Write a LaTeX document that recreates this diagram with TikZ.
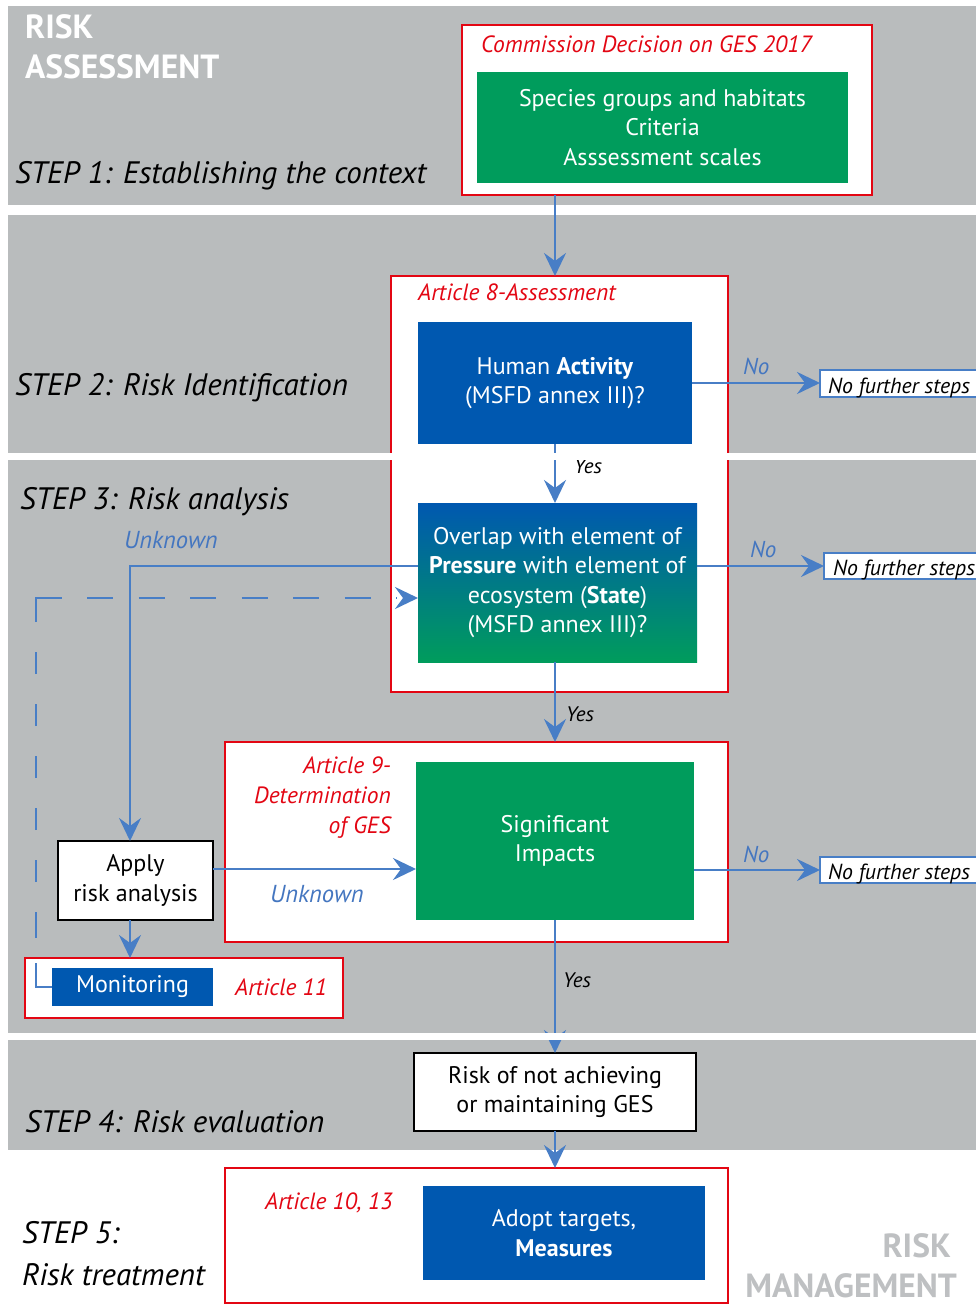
\documentclass[tikz,border=0pt]{standalone}
\usepackage{fontspec}
\setmainfont{PT Sans}
\usetikzlibrary{arrows.meta,calc}
\definecolor{band}{RGB}{185,188,189}
\definecolor{artred}{RGB}{227,6,19}
\definecolor{boxgreen}{RGB}{0,156,92}
\definecolor{boxblue}{RGB}{0,88,176}
\definecolor{arrblue}{RGB}{72,126,198}
\definecolor{lblblue}{RGB}{68,118,192}
\definecolor{mgmtgray}{RGB}{190,192,194}
\newcommand\fBox{\fontsize{24}{29.5}\selectfont}
\newcommand\fStep{\fontsize{31}{40}\selectfont\itshape}
\newcommand\fHead{\fontsize{33.5}{40}\selectfont\bfseries}
\newcommand\fArt{\fontsize{23.5}{30}\selectfont\itshape}
\newcommand\fLbl{\fontsize{23}{26}\selectfont\itshape}
\newcommand\fUnk{\fontsize{24.5}{26}\selectfont\itshape}
\newcommand\fYes{\fontsize{21}{24}\selectfont\itshape}
\newcommand\fNF{\fontsize{21.8}{24}\selectfont\itshape}
\tikzset{
 redbox/.style={draw=artred, line width=2.4pt, fill=white, inner sep=0pt, outer sep=0pt, anchor=north west},
 fillbox/.style={inner sep=0pt, outer sep=0pt, anchor=north west, text=white, align=center, font=\fBox},
 greenbox/.style={fillbox, fill=boxgreen},
 bluebox/.style={fillbox, fill=boxblue},
 gradbox/.style={fillbox, top color=boxblue, bottom color=boxgreen},
 blackbox/.style={fillbox, fill=white, draw=black, line width=2.6pt, text=black},
 nfbox/.style={draw=arrblue, line width=2.2pt, fill=white, anchor=north west, inner sep=0pt, outer sep=0pt},
 nftext/.style={font=\fNF, text=black, inner sep=0pt, anchor=base west},
 arr/.style={draw=arrblue, line width=2.8pt, -{Stealth[length=23pt,width=22pt,inset=8pt]}},
 artlbl/.style={text=artred, font=\fArt, inner sep=0pt},
 steplbl/.style={font=\fStep, text=black, anchor=base west, inner sep=0pt},
 headlbl/.style={font=\fHead, inner sep=0pt},
 nolbl/.style={text=lblblue, font=\fLbl, inner sep=0pt, anchor=base west},
 unklbl/.style={text=lblblue, font=\fUnk, inner sep=0pt, anchor=base west},
 yeslbl/.style={text=black, font=\fYes, inner sep=0pt, anchor=base west},
}
\begin{document}
\begin{tikzpicture}[x=1pt,y=-1pt]
\useasboundingbox (0,0) rectangle (976,1313);
\clip (0,0) rectangle (976,1313);
% bands
\fill[band] (8,6) rectangle (976,205);
\fill[band] (8,215) rectangle (976,1033);
\fill[band] (8,1040) rectangle (976,1150);
% headings
\node[headlbl, text=white, anchor=base west] (hra1) at (25,39) {RISK};
\node[headlbl, text=white, anchor=base west] (hra2) at (25,79) {ASSESSMENT};
\node[headlbl, text=mgmtgray, anchor=base east] (hrm1) at (951,1257) {RISK};
\node[headlbl, text=mgmtgray, anchor=base east] (hrm2) at (957,1297) {MANAGEMENT};
% step labels
\node[steplbl] (s1) at (15,184) {STEP 1: Establishing the context};
\node[steplbl] (s2) at (15,395) {STEP 2: Risk Identification};
\node[steplbl] (s3) at (20,509) {STEP 3: Risk analysis};
\node[steplbl] (s4) at (25,1132) {STEP 4: Risk evaluation};
\node[steplbl] (s5a) at (22,1243) {STEP 5:};
\node[steplbl] (s5b) at (22,1285) {Risk treatment};
% red frames
\node[redbox, minimum width=410pt, minimum height=170pt] (r1) at (462,25) {};
\node[redbox, minimum width=337pt, minimum height=416pt] (r8) at (391,276) {};
\node[redbox, minimum width=503pt, minimum height=200pt] (r9) at (225,742) {};
\node[redbox, minimum width=318pt, minimum height=60pt] (r11) at (25,958) {};
\node[redbox, minimum width=503pt, minimum height=135pt] (r10) at (225,1168) {};
% article labels
\node[artlbl, anchor=base west] (a1) at (481,53) {Commission Decision on GES 2017};
\node[artlbl, anchor=base west] (a8) at (418,301) {Article 8-Assessment};
\node[artlbl, anchor=base east] (a9a) at (391,773) {Article 9-};
\node[artlbl, anchor=base east] (a9b) at (391,803) {Determination};
\node[artlbl, anchor=base east] (a9c) at (391,833) {of GES};
\node[artlbl, anchor=base west] (a11) at (235,995) {Article 11};
\node[artlbl, anchor=base west] (a10) at (265,1209) {Article 10, 13};
% inner boxes
\node[greenbox, minimum width=371pt, minimum height=111pt] (g1) at (477,72) {Species groups and habitats\\Criteria\\Asssessment scales};
\node[bluebox, minimum width=274pt, minimum height=122pt] (b2) at (418,322) {Human \textbf{Activity}\\(MSFD annex III)?};
\node[gradbox, minimum width=279pt, minimum height=159pt] (gb3) at (418,503) {Overlap with element of\\\textbf{Pressure} with element of\\ecosystem (\textbf{State})\\(MSFD annex III)?};
\node[greenbox, minimum width=278pt, minimum height=158pt] (g4) at (416,762) {Significant\\Impacts};
\node[blackbox, minimum width=155pt, minimum height=79pt] (apply) at (58,841) {Apply\\risk analysis};
\node[bluebox, minimum width=161pt, minimum height=38pt] (mon) at (52,968) {Monitoring};
\node[blackbox, minimum width=282pt, minimum height=78pt] (risk) at (414,1053) {Risk of not achieving\\or maintaining GES};
\node[bluebox, minimum width=282pt, minimum height=94pt] (b5) at (423,1186) {Adopt targets,\\\textbf{Measures}};
% no further steps
\node[nfbox, minimum width=175pt, minimum height=27pt] (nf1) at (820,370) {};
\node[nftext] (nf1t) at (828,393) {No further steps};
\node[nfbox, minimum width=175pt, minimum height=26pt] (nf2) at (824,553) {};
\node[nftext] (nf2t) at (833,575) {No further steps};
\node[nfbox, minimum width=175pt, minimum height=26pt] (nf3) at (820,857) {};
\node[nftext] (nf3t) at (828,879) {No further steps};
% connectors
\coordinate (dcorner) at (36,598);
\draw[arr] (g4.north |- r1.south) -- (g4.north |- r8.north);
\draw[arr] (b2.south) -- (b2.south |- gb3.north);
\draw[arr] (b2.east) -- (b2.east -| nf1.west);
\draw[arr] (gb3.east |- nf2.west) -- (nf2.west);
\draw[arr] (gb3.west |- nf2.west) -| ([xshift=-5.5pt]apply.north);
\draw[arr, dash pattern=on 40pt off 25pt on 26pt off 30pt on 22pt off 30pt on 22pt off 30pt on 22pt off 30pt on 22pt off 30pt on 22pt off 30pt on 50pt off 25pt on 26pt off 25.5pt on 26pt off 25.5pt on 26pt off 25.5pt on 26pt off 25.5pt on 26pt off 25.5pt on 26pt off 25.5pt on 1pt off 200pt] (mon.west) -| (dcorner) -- (gb3.west |- dcorner);
\draw[arr] ([yshift=11.5pt]apply.east) -- ([yshift=11.5pt]apply.east -| g4.west);
\draw[arr] ([xshift=-5.5pt]apply.south) -- ([xshift=-5.5pt]apply.south |- r11.north);
\draw[arr] (g4.north |- gb3.south) -- (g4.north |- r9.north);
\draw[arr] (g4.east |- nf3.west) -- (nf3.west);
\draw[arr] (g4.south) -- (risk.north);
\draw[arr] (risk.south) -- (risk.south |- r10.north);
% connector labels
\node[nolbl] (no1) at (743,374) {No};
\node[nolbl] (no2) at (750,557) {No};
\node[nolbl] (no3) at (743,862) {No};
\node[unklbl] (unk1) at (124,548) {Unknown};
\node[unklbl] (unk2) at (270,902) {Unknown};
\node[yeslbl] (yes1) at (574,473) {Yes};
\node[yeslbl] (yes2) at (566,721) {Yes};
\node[yeslbl] (yes3) at (563,987) {Yes};
% white gaps between bands
\fill[white] (0,453) rectangle (976,460);
\fill[white] (0,1033) rectangle (976,1040);
\end{tikzpicture}
\end{document}
